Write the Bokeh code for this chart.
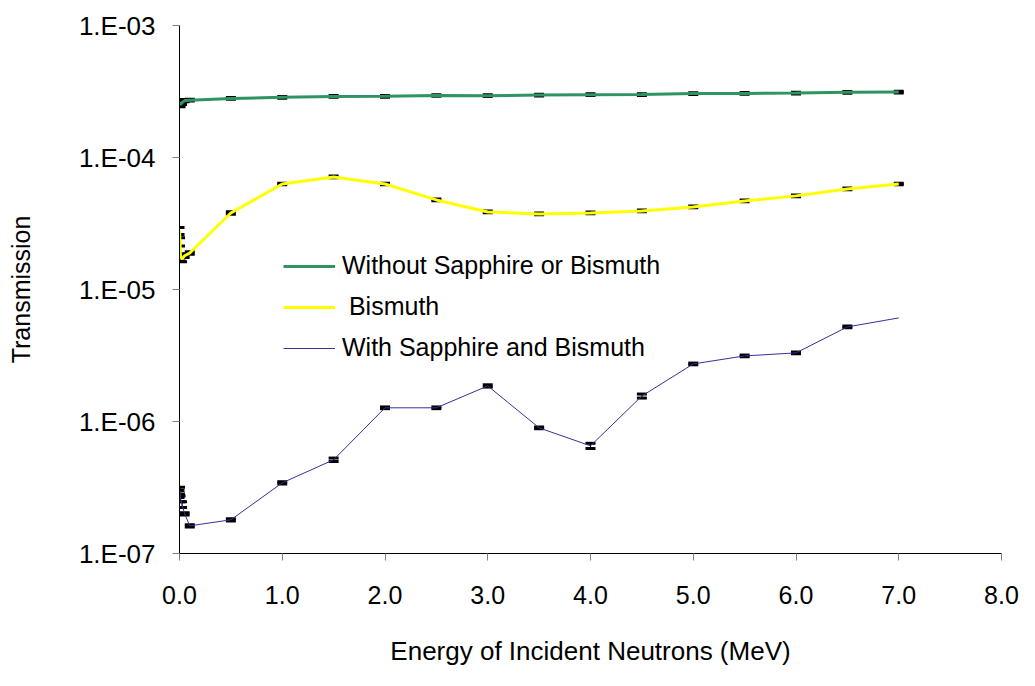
from bokeh.plotting import figure
from bokeh.models import ColumnDataSource, Whisker, TeeHead, FixedTicker, Legend, LegendItem
from bokeh.embed import file_html
from bokeh.resources import INLINE

# ---------------- data ----------------
energy = [0.0, 0.005, 0.01, 0.025, 0.05, 0.1, 0.5, 1.0, 1.5, 2.0, 2.5, 3.0, 3.5,
          4.0, 4.5, 5.0, 5.5, 6.0, 6.5, 7.0]

without_sapphire_bismuth = [2.62e-4, 2.55e-4, 2.52e-4, 2.6e-4, 2.7e-4, 2.72e-4, 2.8e-4,
                            2.86e-4, 2.9e-4, 2.91e-4, 2.95e-4, 2.94e-4, 2.97e-4, 2.99e-4,
                            3.0e-4, 3.05e-4, 3.06e-4, 3.08e-4, 3.12e-4, 3.13e-4]
without_err = [0.04, 0.04, 0.04, 0.03, 0.02, 0.015, 0.015, 0.015, 0.015, 0.015, 0.015,
               0.015, 0.015, 0.015, 0.015, 0.015, 0.015, 0.015, 0.015, 0.015]

bismuth = [2.78e-5, 2.3e-5, 1.75e-5, 1.71e-5, 1.8e-5, 1.89e-5, 3.8e-5, 6.3e-5, 7.12e-5,
           6.3e-5, 4.77e-5, 3.87e-5, 3.74e-5, 3.8e-5, 3.94e-5, 4.22e-5, 4.69e-5, 5.12e-5,
           5.78e-5, 6.3e-5]
bismuth_err = [0.06, 0.07, 0.06, 0.05, 0.03, 0.02, 0.02, 0.015, 0.015, 0.015, 0.015,
               0.015, 0.015, 0.015, 0.015, 0.015, 0.015, 0.015, 0.015, 0.015]

sapphire_bismuth = [2.83e-7, 3.0e-7, 2.6e-7, 2.35e-7, 2.0e-7, 1.62e-7, 1.8e-7, 3.43e-7,
                    5.13e-7, 1.27e-6, 1.27e-6, 1.86e-6, 8.95e-7, 6.54e-7, 1.56e-6,
                    2.73e-6, 3.14e-6, 3.31e-6, 5.21e-6, 6.09e-6]
sapphire_err = [0.06, 0.06, 0.05, 0.05, 0.02, 0.02, 0.02, 0.02, 0.03, 0.015, 0.015,
                0.02, 0.015, 0.045, 0.035, 0.015, 0.015, 0.015, 0.015, 0.0]

series_labels = ["Without Sapphire or Bismuth", " Bismuth", "With Sapphire and Bismuth"]
series_colors = ["#2E9462", "#FFFF00", "#333399"]
series_widths = [3, 3, 1]

x_ticks = [0, 1, 2, 3, 4, 5, 6, 7, 8]
x_tick_labels = ["0.0", "1.0", "2.0", "3.0", "4.0", "5.0", "6.0", "7.0", "8.0"]
y_ticks = [1e-7, 1e-6, 1e-5, 1e-4, 1e-3]
y_tick_labels = ["1.E-07", "1.E-06", "1.E-05", "1.E-04", "1.E-03"]

x_title = "Energy of Incident Neutrons (MeV)"
y_title = "Transmission"

FONT = "Liberation Sans"

p = figure(width=1019, height=670, x_range=(0, 8), y_range=(1e-7, 1e-3),
           y_axis_type="log", output_backend="svg", toolbar_location=None,
           min_border_left=179, min_border_right=18, min_border_top=25,
           min_border_bottom=117)
p.outline_line_color = None
p.grid.visible = False
p.background_fill_color = "white"
p.border_fill_color = "white"

# axes
for ax in (p.xaxis[0], p.yaxis[0]):
    ax.axis_line_color = "black"
    ax.axis_line_width = 1
    ax.major_tick_line_color = "#7f7f7f"
    ax.major_tick_out = 7
    ax.major_tick_in = 0
    ax.minor_tick_out = 0
    ax.minor_tick_in = 0
    ax.major_label_text_font = FONT
    ax.major_label_text_color = "black"
    ax.axis_label_text_font = FONT
    ax.axis_label_text_font_style = "normal"
    ax.axis_label_text_color = "black"

p.xaxis.ticker = FixedTicker(ticks=x_ticks)
p.xaxis.major_label_overrides = dict(zip(x_ticks, x_tick_labels))
p.xaxis.major_label_text_font_size = "25px"
p.xaxis.major_label_standoff = 25
p.xaxis.axis_label = x_title
p.xaxis.axis_label_text_font_size = "26px"
p.xaxis.axis_label_standoff = 29

p.yaxis.ticker = FixedTicker(ticks=y_ticks, minor_ticks=[])
p.yaxis.major_label_overrides = dict(zip(y_ticks, y_tick_labels))
p.yaxis.major_label_text_font_size = "26px"
p.yaxis.major_label_standoff = 17
p.yaxis.axis_label = y_title
p.yaxis.axis_label_text_font_size = "25px"
p.yaxis.axis_label_standoff = 41

# error bars + lines
all_series = [(without_sapphire_bismuth, without_err),
              (bismuth, bismuth_err),
              (sapphire_bismuth, sapphire_err)]
items = []
for (vals, errs), lab, col, w in zip(all_series, series_labels, series_colors, series_widths):
    xs = [x for x, e in zip(energy, errs) if e > 0]
    up = [v * (1 + e) for v, e in zip(vals, errs) if e > 0]
    lo = [v * (1 - e) for v, e in zip(vals, errs) if e > 0]
    src = ColumnDataSource(dict(x=xs, upper=up, lower=lo))
    wh = Whisker(source=src, base="x", upper="upper", lower="lower", dimension="height",
                 line_color="black", line_width=1,
                 upper_head=TeeHead(size=10, line_width=3, line_color="black"),
                 lower_head=TeeHead(size=10, line_width=3, line_color="black"))
    p.add_layout(wh)
    r = p.line(energy, vals, line_color=col, line_width=w)
    items.append(LegendItem(label=lab, renderers=[r]))

legend = Legend(items=items, location=(104, 191))
legend.background_fill_alpha = 0
legend.border_line_alpha = 0
legend.padding = 0
legend.margin = 0
legend.spacing = 12
legend.glyph_width = 52
legend.glyph_height = 24
legend.label_height = 24
legend.label_standoff = 7
legend.label_text_font = FONT
legend.label_text_font_size = "25px"
legend.label_text_color = "black"
p.add_layout(legend)

open("out.html", "w").write(file_html(p, INLINE))
